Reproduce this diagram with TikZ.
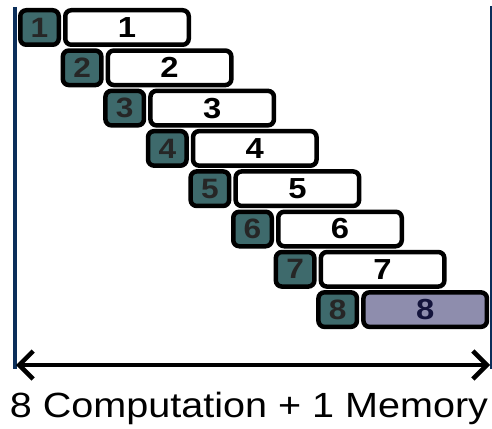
\documentclass[tikz,border=0pt]{standalone}
\usepackage{fontspec}
\setmainfont{Liberation Sans}[FakeStretch=1.13]
\usetikzlibrary{positioning,arrows.meta}
\definecolor{slot}{RGB}{62,106,108}
\definecolor{memfill}{RGB}{142,141,173}
\definecolor{memtext}{RGB}{20,20,60}
\definecolor{axis}{RGB}{11,46,90}

\tikzset{
  sq/.style={draw, line width=4.5pt, rounded corners=6pt, fill=slot,
    minimum width=38.5pt, minimum height=34.5pt, inner sep=0pt,
    text=black!85, font=\fontsize{28}{28}\selectfont\bfseries},
  comp/.style={draw, line width=4.5pt, rounded corners=6pt, fill=white,
    minimum width=123.5pt, minimum height=34.5pt, inner sep=0pt,
    font=\fontsize{29}{29}\selectfont\bfseries},
  barb/.tip={Straight Barb[length=14pt,width=28pt]}
}

\begin{document}
\begin{tikzpicture}[x=1pt,y=-1pt]
    \useasboundingbox (0,0) rectangle (492,428);
    \coordinate (lt) at (14.5,7); \coordinate (lb) at (14.5,369);
    \coordinate (rt) at (491,6); \coordinate (rb) at (491,369);
    \draw[axis, line width=4pt] (lt) -- (lb);
    \draw[axis, line width=1.8pt] (rt) -- (rb);
    \node[sq] (s1) at (39.5,27.5) {1}; \node[comp, right=2pt of s1] (c1) {1};
    \node[sq] (s2) at (82.1,67.8) {2}; \node[comp, right=2pt of s2] (c2) {2};
    \node[sq] (s3) at (124.7,108.1) {3}; \node[comp, right=2pt of s3] (c3) {3};
    \node[sq] (s4) at (167.3,148.4) {4}; \node[comp, right=2pt of s4] (c4) {4};
    \node[sq] (s5) at (209.9,188.7) {5}; \node[comp, right=2pt of s5] (c5) {5};
    \node[sq] (s6) at (252.5,229) {6}; \node[comp, right=2pt of s6] (c6) {6};
    \node[sq] (s7) at (295.1,269.3) {7}; \node[comp, right=2pt of s7] (c7) {7};
    \node[sq] (s8) at (337.7,309.6) {8}; \node[comp, fill=memfill,
    text=memtext, right=2pt of s8] (c8) {8};
    \coordinate (al) at (16,365); \coordinate (ar) at (490,365);
    \draw[line width=4.5pt, barb-barb] (al) -- (ar);
    \node[anchor=base, font=\fontsize{35}{35}\selectfont] (cap) at
    (249,417) {8 Computation + 1 Memory};
\end{tikzpicture}
\end{document}
